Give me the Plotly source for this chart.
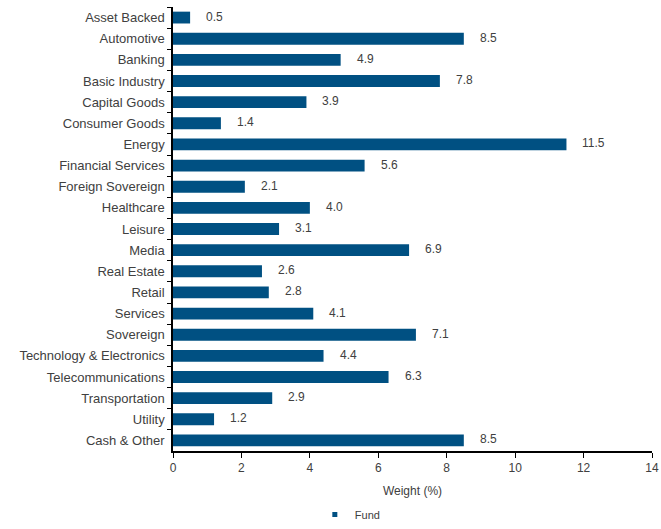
import plotly.graph_objects as go

categories = ["Asset Backed", "Automotive", "Banking", "Basic Industry", "Capital Goods",
              "Consumer Goods", "Energy", "Financial Services", "Foreign Sovereign",
              "Healthcare", "Leisure", "Media", "Real Estate", "Retail", "Services",
              "Sovereign", "Technology & Electronics", "Telecommunications",
              "Transportation", "Utility", "Cash & Other"]
fund = [0.5, 8.5, 4.9, 7.8, 3.9, 1.4, 11.5, 5.6, 2.1, 4.0, 3.1, 6.9, 2.6, 2.8, 4.1,
        7.1, 4.4, 6.3, 2.9, 1.2, 8.5]
x_ticks = [0, 2, 4, 6, 8, 10, 12, 14]

BAR = "#005082"
TXT = "#404040"
FONT = "Liberation Sans, Arial, sans-serif"

fig = go.Figure()
fig.add_trace(go.Bar(
    y=categories, x=fund, orientation="h", name="Fund",
    marker=dict(color=BAR, line=dict(width=0)), width=0.56,
    showlegend=False,
))
# legend entry with a small square marker
fig.add_trace(go.Scatter(
    x=[None], y=[None], mode="markers", name="Fund",
    marker=dict(symbol="square", size=5, color=BAR), showlegend=True,
))

for c, v in zip(categories, fund):
    fig.add_annotation(x=v, y=c, text=f"{v:.1f}", showarrow=False,
                       xanchor="left", xshift=14, yshift=1,
                       font=dict(family=FONT, size=12, color=TXT))

fig.update_layout(
    width=661, height=529,
    margin=dict(l=173, r=9, t=7, b=78),
    paper_bgcolor="white", plot_bgcolor="white",
    font=dict(family=FONT, size=12, color=TXT),
    legend=dict(orientation="h", xref="container", yref="container",
                x=0.53, xanchor="center", y=-0.008, yanchor="bottom",
                font=dict(size=11, color=TXT), itemwidth=30, tracegroupgap=0),
    xaxis=dict(range=[0, 14], tickvals=x_ticks, ticktext=[str(t) for t in x_ticks],
               showgrid=False, zeroline=False, showline=True, linecolor="black",
               linewidth=1.5, ticks="outside", ticklen=5, tickcolor="black",
               automargin=False, ticklabeloverflow="allow",
               title=dict(text="Weight (%)", font=dict(size=12, color=TXT), standoff=12),
               tickfont=dict(size=12, color=TXT)),
    yaxis=dict(autorange="reversed", showgrid=False, zeroline=False, showline=True,
               linecolor="black", linewidth=1.5, ticks="outside", tickson="boundaries",
               ticklen=4, tickcolor="black", automargin=False, ticklabelstandoff=4,
               tickfont=dict(size=13, color=TXT)),
)

fig.write_html("out.html", config={"displayModeBar": False},
               post_script="document.body.style.margin='0';document.body.style.overflow='hidden';")
